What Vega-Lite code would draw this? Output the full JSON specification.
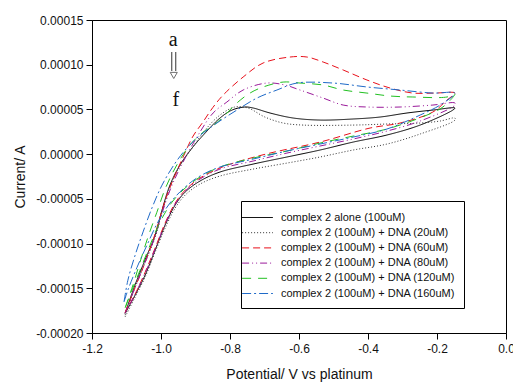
{
  "$schema": "https://vega.github.io/schema/vega-lite/v6.json",
  "width": 414,
  "height": 313,
  "autosize": {"type": "none"},
  "padding": {"left": 92, "top": 20, "right": 7, "bottom": 50},
  "background": "white",
  "config": {
    "view": {"stroke": "black", "strokeWidth": 1},
    "font": "Liberation Sans",
    "axis": {
      "grid": false,
      "domainColor": "black",
      "tickColor": "black",
      "tickSize": 6,
      "labelFlush": false,
      "labelOverlap": false,
      "labelColor": "#111",
      "labelFont": "Liberation Sans",
      "labelFontSize": 12,
      "titleFont": "Liberation Sans",
      "titleFontSize": 14,
      "titleFontWeight": "normal",
      "titleColor": "#111",
      "labelExpr": "replace(datum.label, '\u2212', '-')"
    }
  },
  "datasets": {
    "cv": [
      {"s": "complex 2 alone (100uM)", "i": 0, "v": -1.104, "c": -17.8e-5},
      {"s": "complex 2 alone (100uM)", "i": 1, "v": -1.075, "c": -14.6e-5},
      {"s": "complex 2 alone (100uM)", "i": 2, "v": -1.046, "c": -11.8e-5},
      {"s": "complex 2 alone (100uM)", "i": 3, "v": -1.017, "c": -9.05e-5},
      {"s": "complex 2 alone (100uM)", "i": 4, "v": -0.997, "c": -6.25e-5},
      {"s": "complex 2 alone (100uM)", "i": 5, "v": -0.974, "c": -3.46e-5},
      {"s": "complex 2 alone (100uM)", "i": 6, "v": -0.945, "c": -1.22e-5},
      {"s": "complex 2 alone (100uM)", "i": 7, "v": -0.910, "c": 0.68e-5},
      {"s": "complex 2 alone (100uM)", "i": 8, "v": -0.872, "c": 2.36e-5},
      {"s": "complex 2 alone (100uM)", "i": 9, "v": -0.829, "c": 4.04e-5},
      {"s": "complex 2 alone (100uM)", "i": 10, "v": -0.794, "c": 4.93e-5},
      {"s": "complex 2 alone (100uM)", "i": 11, "v": -0.757, "c": 5.27e-5},
      {"s": "complex 2 alone (100uM)", "i": 12, "v": -0.733, "c": 5.16e-5},
      {"s": "complex 2 alone (100uM)", "i": 13, "v": -0.684, "c": 4.60e-5},
      {"s": "complex 2 alone (100uM)", "i": 14, "v": -0.617, "c": 4.04e-5},
      {"s": "complex 2 alone (100uM)", "i": 15, "v": -0.539, "c": 3.81e-5},
      {"s": "complex 2 alone (100uM)", "i": 16, "v": -0.443, "c": 3.93e-5},
      {"s": "complex 2 alone (100uM)", "i": 17, "v": -0.365, "c": 4.15e-5},
      {"s": "complex 2 alone (100uM)", "i": 18, "v": -0.287, "c": 4.60e-5},
      {"s": "complex 2 alone (100uM)", "i": 19, "v": -0.212, "c": 4.93e-5},
      {"s": "complex 2 alone (100uM)", "i": 20, "v": -0.148, "c": 5.16e-5},
      {"s": "complex 2 alone (100uM)", "i": 21, "v": -0.154, "c": 4.93e-5},
      {"s": "complex 2 alone (100uM)", "i": 22, "v": -0.249, "c": 3.25e-5},
      {"s": "complex 2 alone (100uM)", "i": 23, "v": -0.345, "c": 2.14e-5},
      {"s": "complex 2 alone (100uM)", "i": 24, "v": -0.443, "c": 1.35e-5},
      {"s": "complex 2 alone (100uM)", "i": 25, "v": -0.539, "c": 0.46e-5},
      {"s": "complex 2 alone (100uM)", "i": 26, "v": -0.635, "c": -0.32e-5},
      {"s": "complex 2 alone (100uM)", "i": 27, "v": -0.733, "c": -1.11e-5},
      {"s": "complex 2 alone (100uM)", "i": 28, "v": -0.829, "c": -2.0e-5},
      {"s": "complex 2 alone (100uM)", "i": 29, "v": -0.887, "c": -3.01e-5},
      {"s": "complex 2 alone (100uM)", "i": 30, "v": -0.930, "c": -4.24e-5},
      {"s": "complex 2 alone (100uM)", "i": 31, "v": -0.959, "c": -5.69e-5},
      {"s": "complex 2 alone (100uM)", "i": 32, "v": -0.988, "c": -7.93e-5},
      {"s": "complex 2 alone (100uM)", "i": 33, "v": -1.017, "c": -10.73e-5},
      {"s": "complex 2 alone (100uM)", "i": 34, "v": -1.046, "c": -13.52e-5},
      {"s": "complex 2 alone (100uM)", "i": 35, "v": -1.075, "c": -15.76e-5},
      {"s": "complex 2 alone (100uM)", "i": 36, "v": -1.104, "c": -17.8e-5},

      {"s": "complex 2 (100uM) + DNA (20uM)", "i": 0, "v": -1.104, "c": -18.0e-5},
      {"s": "complex 2 (100uM) + DNA (20uM)", "i": 1, "v": -1.075, "c": -14.9e-5},
      {"s": "complex 2 (100uM) + DNA (20uM)", "i": 2, "v": -1.046, "c": -12.1e-5},
      {"s": "complex 2 (100uM) + DNA (20uM)", "i": 3, "v": -1.017, "c": -9.3e-5},
      {"s": "complex 2 (100uM) + DNA (20uM)", "i": 4, "v": -0.997, "c": -6.5e-5},
      {"s": "complex 2 (100uM) + DNA (20uM)", "i": 5, "v": -0.974, "c": -3.7e-5},
      {"s": "complex 2 (100uM) + DNA (20uM)", "i": 6, "v": -0.945, "c": -1.3e-5},
      {"s": "complex 2 (100uM) + DNA (20uM)", "i": 7, "v": -0.910, "c": 0.68e-5},
      {"s": "complex 2 (100uM) + DNA (20uM)", "i": 8, "v": -0.872, "c": 2.7e-5},
      {"s": "complex 2 (100uM) + DNA (20uM)", "i": 9, "v": -0.829, "c": 4.37e-5},
      {"s": "complex 2 (100uM) + DNA (20uM)", "i": 10, "v": -0.786, "c": 5.27e-5},
      {"s": "complex 2 (100uM) + DNA (20uM)", "i": 11, "v": -0.748, "c": 5.16e-5},
      {"s": "complex 2 (100uM) + DNA (20uM)", "i": 12, "v": -0.699, "c": 4.15e-5},
      {"s": "complex 2 (100uM) + DNA (20uM)", "i": 13, "v": -0.646, "c": 3.48e-5},
      {"s": "complex 2 (100uM) + DNA (20uM)", "i": 14, "v": -0.588, "c": 3.25e-5},
      {"s": "complex 2 (100uM) + DNA (20uM)", "i": 15, "v": -0.443, "c": 3.25e-5},
      {"s": "complex 2 (100uM) + DNA (20uM)", "i": 16, "v": -0.345, "c": 3.37e-5},
      {"s": "complex 2 (100uM) + DNA (20uM)", "i": 17, "v": -0.249, "c": 3.48e-5},
      {"s": "complex 2 (100uM) + DNA (20uM)", "i": 18, "v": -0.191, "c": 3.70e-5},
      {"s": "complex 2 (100uM) + DNA (20uM)", "i": 19, "v": -0.148, "c": 4.04e-5},
      {"s": "complex 2 (100uM) + DNA (20uM)", "i": 20, "v": -0.148, "c": 3.81e-5},
      {"s": "complex 2 (100uM) + DNA (20uM)", "i": 21, "v": -0.249, "c": 2.25e-5},
      {"s": "complex 2 (100uM) + DNA (20uM)", "i": 22, "v": -0.345, "c": 1.13e-5},
      {"s": "complex 2 (100uM) + DNA (20uM)", "i": 23, "v": -0.443, "c": 0.46e-5},
      {"s": "complex 2 (100uM) + DNA (20uM)", "i": 24, "v": -0.539, "c": -0.32e-5},
      {"s": "complex 2 (100uM) + DNA (20uM)", "i": 25, "v": -0.635, "c": -1.0e-5},
      {"s": "complex 2 (100uM) + DNA (20uM)", "i": 26, "v": -0.733, "c": -1.67e-5},
      {"s": "complex 2 (100uM) + DNA (20uM)", "i": 27, "v": -0.829, "c": -2.45e-5},
      {"s": "complex 2 (100uM) + DNA (20uM)", "i": 28, "v": -0.887, "c": -3.35e-5},
      {"s": "complex 2 (100uM) + DNA (20uM)", "i": 29, "v": -0.930, "c": -4.58e-5},
      {"s": "complex 2 (100uM) + DNA (20uM)", "i": 30, "v": -0.959, "c": -6.03e-5},
      {"s": "complex 2 (100uM) + DNA (20uM)", "i": 31, "v": -0.988, "c": -8.27e-5},
      {"s": "complex 2 (100uM) + DNA (20uM)", "i": 32, "v": -1.017, "c": -10.95e-5},
      {"s": "complex 2 (100uM) + DNA (20uM)", "i": 33, "v": -1.046, "c": -13.75e-5},
      {"s": "complex 2 (100uM) + DNA (20uM)", "i": 34, "v": -1.075, "c": -15.98e-5},
      {"s": "complex 2 (100uM) + DNA (20uM)", "i": 35, "v": -1.104, "c": -18.2e-5},

      {"s": "complex 2 (100uM) + DNA (60uM)", "i": 0, "v": -1.104, "c": -17.7e-5},
      {"s": "complex 2 (100uM) + DNA (60uM)", "i": 1, "v": -1.075, "c": -14.9e-5},
      {"s": "complex 2 (100uM) + DNA (60uM)", "i": 2, "v": -1.046, "c": -12.1e-5},
      {"s": "complex 2 (100uM) + DNA (60uM)", "i": 3, "v": -1.017, "c": -8.9e-5},
      {"s": "complex 2 (100uM) + DNA (60uM)", "i": 4, "v": -0.994, "c": -5.9e-5},
      {"s": "complex 2 (100uM) + DNA (60uM)", "i": 5, "v": -0.974, "c": -3.7e-5},
      {"s": "complex 2 (100uM) + DNA (60uM)", "i": 6, "v": -0.936, "c": -0.33e-5},
      {"s": "complex 2 (100uM) + DNA (60uM)", "i": 7, "v": -0.907, "c": 2.02e-5},
      {"s": "complex 2 (100uM) + DNA (60uM)", "i": 8, "v": -0.880, "c": 3.5e-5},
      {"s": "complex 2 (100uM) + DNA (60uM)", "i": 9, "v": -0.850, "c": 5.2e-5},
      {"s": "complex 2 (100uM) + DNA (60uM)", "i": 10, "v": -0.820, "c": 6.6e-5},
      {"s": "complex 2 (100uM) + DNA (60uM)", "i": 11, "v": -0.762, "c": 8.62e-5},
      {"s": "complex 2 (100uM) + DNA (60uM)", "i": 12, "v": -0.704, "c": 10.19e-5},
      {"s": "complex 2 (100uM) + DNA (60uM)", "i": 13, "v": -0.626, "c": 10.86e-5},
      {"s": "complex 2 (100uM) + DNA (60uM)", "i": 14, "v": -0.577, "c": 10.86e-5},
      {"s": "complex 2 (100uM) + DNA (60uM)", "i": 15, "v": -0.530, "c": 10.30e-5},
      {"s": "complex 2 (100uM) + DNA (60uM)", "i": 16, "v": -0.472, "c": 9.41e-5},
      {"s": "complex 2 (100uM) + DNA (60uM)", "i": 17, "v": -0.403, "c": 8.29e-5},
      {"s": "complex 2 (100uM) + DNA (60uM)", "i": 18, "v": -0.336, "c": 7.39e-5},
      {"s": "complex 2 (100uM) + DNA (60uM)", "i": 19, "v": -0.270, "c": 6.83e-5},
      {"s": "complex 2 (100uM) + DNA (60uM)", "i": 20, "v": -0.206, "c": 6.83e-5},
      {"s": "complex 2 (100uM) + DNA (60uM)", "i": 21, "v": -0.148, "c": 6.83e-5},
      {"s": "complex 2 (100uM) + DNA (60uM)", "i": 22, "v": -0.171, "c": 6.05e-5},
      {"s": "complex 2 (100uM) + DNA (60uM)", "i": 23, "v": -0.212, "c": 4.71e-5},
      {"s": "complex 2 (100uM) + DNA (60uM)", "i": 24, "v": -0.307, "c": 3.48e-5},
      {"s": "complex 2 (100uM) + DNA (60uM)", "i": 25, "v": -0.394, "c": 2.92e-5},
      {"s": "complex 2 (100uM) + DNA (60uM)", "i": 26, "v": -0.539, "c": 1.35e-5},
      {"s": "complex 2 (100uM) + DNA (60uM)", "i": 27, "v": -0.684, "c": 0.12e-5},
      {"s": "complex 2 (100uM) + DNA (60uM)", "i": 28, "v": -0.780, "c": -0.88e-5},
      {"s": "complex 2 (100uM) + DNA (60uM)", "i": 29, "v": -0.829, "c": -1.55e-5},
      {"s": "complex 2 (100uM) + DNA (60uM)", "i": 30, "v": -0.887, "c": -2.67e-5},
      {"s": "complex 2 (100uM) + DNA (60uM)", "i": 31, "v": -0.930, "c": -4.02e-5},
      {"s": "complex 2 (100uM) + DNA (60uM)", "i": 32, "v": -0.959, "c": -5.47e-5},
      {"s": "complex 2 (100uM) + DNA (60uM)", "i": 33, "v": -0.988, "c": -7.7e-5},
      {"s": "complex 2 (100uM) + DNA (60uM)", "i": 34, "v": -1.017, "c": -10.5e-5},
      {"s": "complex 2 (100uM) + DNA (60uM)", "i": 35, "v": -1.046, "c": -13.2e-5},
      {"s": "complex 2 (100uM) + DNA (60uM)", "i": 36, "v": -1.075, "c": -15.65e-5},
      {"s": "complex 2 (100uM) + DNA (60uM)", "i": 37, "v": -1.104, "c": -17.7e-5},

      {"s": "complex 2 (100uM) + DNA (80uM)", "i": 0, "v": -1.104, "c": -17.8e-5},
      {"s": "complex 2 (100uM) + DNA (80uM)", "i": 1, "v": -1.075, "c": -14.9e-5},
      {"s": "complex 2 (100uM) + DNA (80uM)", "i": 2, "v": -1.046, "c": -12.1e-5},
      {"s": "complex 2 (100uM) + DNA (80uM)", "i": 3, "v": -1.017, "c": -9.2e-5},
      {"s": "complex 2 (100uM) + DNA (80uM)", "i": 4, "v": -0.994, "c": -6.25e-5},
      {"s": "complex 2 (100uM) + DNA (80uM)", "i": 5, "v": -0.968, "c": -3.46e-5},
      {"s": "complex 2 (100uM) + DNA (80uM)", "i": 6, "v": -0.930, "c": -0.44e-5},
      {"s": "complex 2 (100uM) + DNA (80uM)", "i": 7, "v": -0.887, "c": 2.47e-5},
      {"s": "complex 2 (100uM) + DNA (80uM)", "i": 8, "v": -0.849, "c": 4.6e-5},
      {"s": "complex 2 (100uM) + DNA (80uM)", "i": 9, "v": -0.809, "c": 5.83e-5},
      {"s": "complex 2 (100uM) + DNA (80uM)", "i": 10, "v": -0.762, "c": 7.17e-5},
      {"s": "complex 2 (100uM) + DNA (80uM)", "i": 11, "v": -0.693, "c": 7.95e-5},
      {"s": "complex 2 (100uM) + DNA (80uM)", "i": 12, "v": -0.641, "c": 7.73e-5},
      {"s": "complex 2 (100uM) + DNA (80uM)", "i": 13, "v": -0.597, "c": 7.17e-5},
      {"s": "complex 2 (100uM) + DNA (80uM)", "i": 14, "v": -0.530, "c": 6.27e-5},
      {"s": "complex 2 (100uM) + DNA (80uM)", "i": 15, "v": -0.472, "c": 5.49e-5},
      {"s": "complex 2 (100uM) + DNA (80uM)", "i": 16, "v": -0.403, "c": 5.27e-5},
      {"s": "complex 2 (100uM) + DNA (80uM)", "i": 17, "v": -0.307, "c": 5.27e-5},
      {"s": "complex 2 (100uM) + DNA (80uM)", "i": 18, "v": -0.212, "c": 5.49e-5},
      {"s": "complex 2 (100uM) + DNA (80uM)", "i": 19, "v": -0.148, "c": 5.72e-5},
      {"s": "complex 2 (100uM) + DNA (80uM)", "i": 20, "v": -0.148, "c": 5.49e-5},
      {"s": "complex 2 (100uM) + DNA (80uM)", "i": 21, "v": -0.249, "c": 3.70e-5},
      {"s": "complex 2 (100uM) + DNA (80uM)", "i": 22, "v": -0.345, "c": 2.58e-5},
      {"s": "complex 2 (100uM) + DNA (80uM)", "i": 23, "v": -0.443, "c": 1.69e-5},
      {"s": "complex 2 (100uM) + DNA (80uM)", "i": 24, "v": -0.539, "c": 0.91e-5},
      {"s": "complex 2 (100uM) + DNA (80uM)", "i": 25, "v": -0.635, "c": 0.12e-5},
      {"s": "complex 2 (100uM) + DNA (80uM)", "i": 26, "v": -0.733, "c": -0.77e-5},
      {"s": "complex 2 (100uM) + DNA (80uM)", "i": 27, "v": -0.829, "c": -1.67e-5},
      {"s": "complex 2 (100uM) + DNA (80uM)", "i": 28, "v": -0.887, "c": -2.79e-5},
      {"s": "complex 2 (100uM) + DNA (80uM)", "i": 29, "v": -0.930, "c": -4.13e-5},
      {"s": "complex 2 (100uM) + DNA (80uM)", "i": 30, "v": -0.959, "c": -5.58e-5},
      {"s": "complex 2 (100uM) + DNA (80uM)", "i": 31, "v": -0.988, "c": -7.82e-5},
      {"s": "complex 2 (100uM) + DNA (80uM)", "i": 32, "v": -1.017, "c": -10.6e-5},
      {"s": "complex 2 (100uM) + DNA (80uM)", "i": 33, "v": -1.046, "c": -13.3e-5},
      {"s": "complex 2 (100uM) + DNA (80uM)", "i": 34, "v": -1.075, "c": -15.65e-5},
      {"s": "complex 2 (100uM) + DNA (80uM)", "i": 35, "v": -1.104, "c": -17.8e-5},

      {"s": "complex 2 (100uM) + DNA (120uM)", "i": 0, "v": -1.104, "c": -17.2e-5},
      {"s": "complex 2 (100uM) + DNA (120uM)", "i": 1, "v": -1.081, "c": -14.6e-5},
      {"s": "complex 2 (100uM) + DNA (120uM)", "i": 2, "v": -1.061, "c": -12.1e-5},
      {"s": "complex 2 (100uM) + DNA (120uM)", "i": 3, "v": -1.038, "c": -9.3e-5},
      {"s": "complex 2 (100uM) + DNA (120uM)", "i": 4, "v": -1.012, "c": -6.5e-5},
      {"s": "complex 2 (100uM) + DNA (120uM)", "i": 5, "v": -0.986, "c": -3.7e-5},
      {"s": "complex 2 (100uM) + DNA (120uM)", "i": 6, "v": -0.951, "c": -1.0e-5},
      {"s": "complex 2 (100uM) + DNA (120uM)", "i": 7, "v": -0.916, "c": 1.02e-5},
      {"s": "complex 2 (100uM) + DNA (120uM)", "i": 8, "v": -0.881, "c": 2.36e-5},
      {"s": "complex 2 (100uM) + DNA (120uM)", "i": 9, "v": -0.849, "c": 3.2e-5},
      {"s": "complex 2 (100uM) + DNA (120uM)", "i": 10, "v": -0.820, "c": 4.15e-5},
      {"s": "complex 2 (100uM) + DNA (120uM)", "i": 11, "v": -0.780, "c": 5.72e-5},
      {"s": "complex 2 (100uM) + DNA (120uM)", "i": 12, "v": -0.742, "c": 6.83e-5},
      {"s": "complex 2 (100uM) + DNA (120uM)", "i": 13, "v": -0.704, "c": 7.51e-5},
      {"s": "complex 2 (100uM) + DNA (120uM)", "i": 14, "v": -0.646, "c": 8.06e-5},
      {"s": "complex 2 (100uM) + DNA (120uM)", "i": 15, "v": -0.597, "c": 7.95e-5},
      {"s": "complex 2 (100uM) + DNA (120uM)", "i": 16, "v": -0.530, "c": 7.73e-5},
      {"s": "complex 2 (100uM) + DNA (120uM)", "i": 17, "v": -0.472, "c": 7.17e-5},
      {"s": "complex 2 (100uM) + DNA (120uM)", "i": 18, "v": -0.403, "c": 6.83e-5},
      {"s": "complex 2 (100uM) + DNA (120uM)", "i": 19, "v": -0.336, "c": 6.50e-5},
      {"s": "complex 2 (100uM) + DNA (120uM)", "i": 20, "v": -0.270, "c": 6.39e-5},
      {"s": "complex 2 (100uM) + DNA (120uM)", "i": 21, "v": -0.171, "c": 6.39e-5},
      {"s": "complex 2 (100uM) + DNA (120uM)", "i": 22, "v": -0.148, "c": 6.72e-5},
      {"s": "complex 2 (100uM) + DNA (120uM)", "i": 23, "v": -0.183, "c": 5.27e-5},
      {"s": "complex 2 (100uM) + DNA (120uM)", "i": 24, "v": -0.229, "c": 4.37e-5},
      {"s": "complex 2 (100uM) + DNA (120uM)", "i": 25, "v": -0.345, "c": 2.81e-5},
      {"s": "complex 2 (100uM) + DNA (120uM)", "i": 26, "v": -0.443, "c": 2.02e-5},
      {"s": "complex 2 (100uM) + DNA (120uM)", "i": 27, "v": -0.539, "c": 1.24e-5},
      {"s": "complex 2 (100uM) + DNA (120uM)", "i": 28, "v": -0.635, "c": 0.35e-5},
      {"s": "complex 2 (100uM) + DNA (120uM)", "i": 29, "v": -0.733, "c": -0.44e-5},
      {"s": "complex 2 (100uM) + DNA (120uM)", "i": 30, "v": -0.829, "c": -1.44e-5},
      {"s": "complex 2 (100uM) + DNA (120uM)", "i": 31, "v": -0.887, "c": -2.56e-5},
      {"s": "complex 2 (100uM) + DNA (120uM)", "i": 32, "v": -0.930, "c": -3.79e-5},
      {"s": "complex 2 (100uM) + DNA (120uM)", "i": 33, "v": -0.968, "c": -5.36e-5},
      {"s": "complex 2 (100uM) + DNA (120uM)", "i": 34, "v": -1.003, "c": -7.6e-5},
      {"s": "complex 2 (100uM) + DNA (120uM)", "i": 35, "v": -1.032, "c": -10.2e-5},
      {"s": "complex 2 (100uM) + DNA (120uM)", "i": 36, "v": -1.061, "c": -13.0e-5},
      {"s": "complex 2 (100uM) + DNA (120uM)", "i": 37, "v": -1.084, "c": -15.2e-5},
      {"s": "complex 2 (100uM) + DNA (120uM)", "i": 38, "v": -1.104, "c": -17.2e-5},

      {"s": "complex 2 (100uM) + DNA (160uM)", "i": 0, "v": -1.107, "c": -16.5e-5},
      {"s": "complex 2 (100uM) + DNA (160uM)", "i": 1, "v": -1.096, "c": -14.1e-5},
      {"s": "complex 2 (100uM) + DNA (160uM)", "i": 2, "v": -1.075, "c": -11.3e-5},
      {"s": "complex 2 (100uM) + DNA (160uM)", "i": 3, "v": -1.052, "c": -8.7e-5},
      {"s": "complex 2 (100uM) + DNA (160uM)", "i": 4, "v": -1.026, "c": -6.0e-5},
      {"s": "complex 2 (100uM) + DNA (160uM)", "i": 5, "v": -0.997, "c": -3.46e-5},
      {"s": "complex 2 (100uM) + DNA (160uM)", "i": 6, "v": -0.959, "c": -1.0e-5},
      {"s": "complex 2 (100uM) + DNA (160uM)", "i": 7, "v": -0.925, "c": 0.68e-5},
      {"s": "complex 2 (100uM) + DNA (160uM)", "i": 8, "v": -0.896, "c": 1.8e-5},
      {"s": "complex 2 (100uM) + DNA (160uM)", "i": 9, "v": -0.838, "c": 3.48e-5},
      {"s": "complex 2 (100uM) + DNA (160uM)", "i": 10, "v": -0.780, "c": 4.93e-5},
      {"s": "complex 2 (100uM) + DNA (160uM)", "i": 11, "v": -0.722, "c": 6.27e-5},
      {"s": "complex 2 (100uM) + DNA (160uM)", "i": 12, "v": -0.664, "c": 7.17e-5},
      {"s": "complex 2 (100uM) + DNA (160uM)", "i": 13, "v": -0.606, "c": 7.95e-5},
      {"s": "complex 2 (100uM) + DNA (160uM)", "i": 14, "v": -0.501, "c": 7.95e-5},
      {"s": "complex 2 (100uM) + DNA (160uM)", "i": 15, "v": -0.403, "c": 7.51e-5},
      {"s": "complex 2 (100uM) + DNA (160uM)", "i": 16, "v": -0.307, "c": 7.17e-5},
      {"s": "complex 2 (100uM) + DNA (160uM)", "i": 17, "v": -0.212, "c": 6.83e-5},
      {"s": "complex 2 (100uM) + DNA (160uM)", "i": 18, "v": -0.148, "c": 6.83e-5},
      {"s": "complex 2 (100uM) + DNA (160uM)", "i": 19, "v": -0.191, "c": 5.49e-5},
      {"s": "complex 2 (100uM) + DNA (160uM)", "i": 20, "v": -0.249, "c": 4.37e-5},
      {"s": "complex 2 (100uM) + DNA (160uM)", "i": 21, "v": -0.345, "c": 2.81e-5},
      {"s": "complex 2 (100uM) + DNA (160uM)", "i": 22, "v": -0.443, "c": 1.91e-5},
      {"s": "complex 2 (100uM) + DNA (160uM)", "i": 23, "v": -0.539, "c": 1.13e-5},
      {"s": "complex 2 (100uM) + DNA (160uM)", "i": 24, "v": -0.635, "c": 0.35e-5},
      {"s": "complex 2 (100uM) + DNA (160uM)", "i": 25, "v": -0.733, "c": -0.55e-5},
      {"s": "complex 2 (100uM) + DNA (160uM)", "i": 26, "v": -0.829, "c": -1.44e-5},
      {"s": "complex 2 (100uM) + DNA (160uM)", "i": 27, "v": -0.887, "c": -2.45e-5},
      {"s": "complex 2 (100uM) + DNA (160uM)", "i": 28, "v": -0.930, "c": -3.68e-5},
      {"s": "complex 2 (100uM) + DNA (160uM)", "i": 29, "v": -0.974, "c": -5.47e-5},
      {"s": "complex 2 (100uM) + DNA (160uM)", "i": 30, "v": -1.009, "c": -7.6e-5},
      {"s": "complex 2 (100uM) + DNA (160uM)", "i": 31, "v": -1.041, "c": -10.2e-5},
      {"s": "complex 2 (100uM) + DNA (160uM)", "i": 32, "v": -1.070, "c": -12.7e-5},
      {"s": "complex 2 (100uM) + DNA (160uM)", "i": 33, "v": -1.096, "c": -15.2e-5},
      {"s": "complex 2 (100uM) + DNA (160uM)", "i": 34, "v": -1.107, "c": -16.5e-5}
    ],
    "labels": [
      {"t": "a", "v": -0.965, "c": 12.76e-5},
      {"t": "f", "v": -0.957, "c": 6.05e-5}
    ],
    "arrow": [
      {"v": -0.963, "c": 11.42e-5, "c2": 9.3e-5, "ch": 8.8e-5}
    ]
  },
  "layer": [
    {
      "data": {"name": "cv"},
      "mark": {"type": "line", "strokeWidth": 1, "interpolate": "catmull-rom"},
      "encoding": {
        "x": {
          "field": "v", "type": "quantitative",
          "scale": {"domain": [-1.2, 0], "nice": false, "zero": false},
          "axis": {"values": [-1.2, -1.0, -0.8, -0.6, -0.4, -0.2, 0.0], "format": ".1f", "title": "Potential/ V vs platinum", "labelPadding": 4, "titlePadding": 13}
        },
        "y": {
          "field": "c", "type": "quantitative",
          "scale": {"domain": [-0.0002, 0.00015], "nice": false, "zero": false},
          "axis": {"values": [-0.0002, -0.00015, -0.0001, -0.00005, 0, 0.00005, 0.0001, 0.00015], "format": ".5f", "title": "Current/ A", "labelPadding": 3, "titlePadding": 8}
        },
        "color": {
          "field": "s", "type": "nominal",
          "scale": {
            "domain": ["complex 2 alone (100uM)", "complex 2 (100uM) + DNA (20uM)", "complex 2 (100uM) + DNA (60uM)", "complex 2 (100uM) + DNA (80uM)", "complex 2 (100uM) + DNA (120uM)", "complex 2 (100uM) + DNA (160uM)"],
            "range": ["#000000", "#333333", "#e8101a", "#9a1a9a", "#22c022", "#1f6ac8"]
          },
          "legend": {
            "title": null, "orient": "none", "legendX": 149, "legendY": 181,
            "symbolType": "M-2.2,0H2.2", "symbolSize": 196, "symbolStrokeWidth": 1,
            "labelOffset": 16, "labelFontSize": 11, "labelFont": "Liberation Sans", "labelColor": "#111",
            "strokeColor": "black", "fillColor": "white", "padding": 9, "rowPadding": 2.2, "labelLimit": 300
          }
        },
        "strokeDash": {
          "field": "s", "type": "nominal",
          "scale": {
            "domain": ["complex 2 alone (100uM)", "complex 2 (100uM) + DNA (20uM)", "complex 2 (100uM) + DNA (60uM)", "complex 2 (100uM) + DNA (80uM)", "complex 2 (100uM) + DNA (120uM)", "complex 2 (100uM) + DNA (160uM)"],
            "range": [[1, 0], [1, 2], [7, 4], [7, 3, 1, 3, 1, 3], [9, 7], [9, 3, 2, 3]]
          },
          "legend": {
            "title": null, "orient": "none", "legendX": 149, "legendY": 181,
            "symbolType": "M-2.2,0H2.2", "symbolSize": 196, "symbolStrokeWidth": 1,
            "labelOffset": 16, "labelFontSize": 11, "labelFont": "Liberation Sans", "labelColor": "#111",
            "strokeColor": "black", "fillColor": "white", "padding": 9, "rowPadding": 2.2, "labelLimit": 300
          }
        },
        "order": {"field": "i", "type": "quantitative"}
      }
    },
    {
      "data": {"name": "arrow"},
      "mark": {"type": "rule", "color": "#333", "strokeWidth": 5},
      "encoding": {
        "x": {"field": "v", "type": "quantitative"},
        "y": {"field": "c", "type": "quantitative"},
        "y2": {"field": "c2"}
      }
    },
    {
      "data": {"name": "arrow"},
      "mark": {"type": "rule", "color": "white", "strokeWidth": 3},
      "encoding": {
        "x": {"field": "v", "type": "quantitative"},
        "y": {"field": "c", "type": "quantitative"},
        "y2": {"field": "c2"}
      }
    },
    {
      "data": {"name": "arrow"},
      "mark": {"type": "point", "shape": "triangle-down", "filled": true, "fill": "white", "stroke": "#333", "strokeWidth": 1, "size": 50},
      "encoding": {
        "x": {"field": "v", "type": "quantitative"},
        "y": {"field": "ch", "type": "quantitative"}
      }
    },
    {
      "data": {"name": "labels"},
      "mark": {"type": "text", "font": "Liberation Serif", "fontSize": 20, "color": "#111", "align": "center", "baseline": "middle"},
      "encoding": {
        "x": {"field": "v", "type": "quantitative"},
        "y": {"field": "c", "type": "quantitative"},
        "text": {"field": "t"}
      }
    }
  ]
}
